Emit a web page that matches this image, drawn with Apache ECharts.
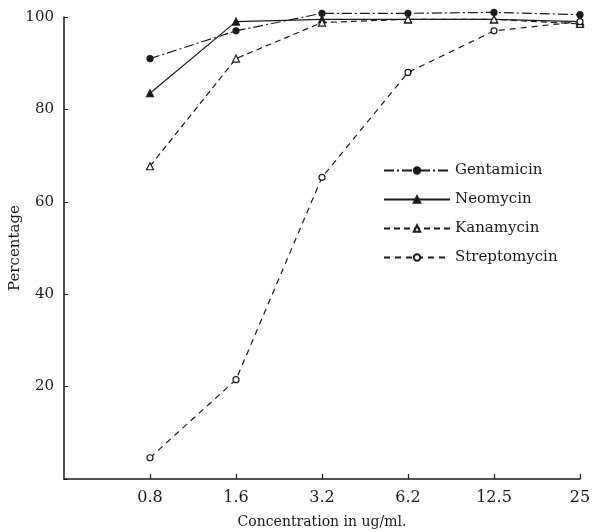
<!DOCTYPE html>
<html>
<head>
<meta charset="utf-8">
<script src="https://cdn.jsdelivr.net/npm/echarts@6/dist/echarts.min.js"></script>
<style>
  html, body { margin: 0; padding: 0; background: #fff; }
  #chart { width: 592px; height: 532px; }
</style>
</head>
<body>
<div id="chart"></div>
<script>
// concentrations (ug/ml), one category per dose
const concentrations = ["0.8", "1.6", "3.2", "6.2", "12.5", "25"];
const yTicks = [20, 40, 60, 80, 100];

const gentamicin = [91, 97, 100.8, 100.8, 101, 100.5];
const neomycin = [83.5, 99, 99.5, 99.5, 99.5, 99];
const kanamycin = [67.7, 91, 98.8, 99.5, 99.5, 98.5];
const streptomycin = [4.6, 21.5, 65.3, 88, 97, 99];

const ink = "#1a1a1a";
const serif = "'DejaVu Serif', 'Liberation Serif', serif";

// leading empty slot so 0.8 sits one step right of the y axis
const xData = [""].concat(concentrations);
function pad(arr) {
  return [null].concat(arr);
}

function makeSeries(name, values, symbol, filled, dash) {
  return {
    name: name,
    type: "line",
    data: pad(values),
    clip: false,
    symbol: symbol,
    symbolSize: symbol === "triangle" ? 7 : 6,
    itemStyle: {
      color: filled ? ink : "#fff",
      borderColor: ink,
      borderWidth: 1.2,
    },
    lineStyle: { color: ink, width: 1.2, type: dash },
    emphasis: { disabled: true },
  };
}

const chart = echarts.init(document.getElementById("chart"));
chart.setOption({
  animation: false,
  backgroundColor: "#fff",
  grid: { left: 64, right: 12, top: 17, bottom: 53, outerBoundsMode: "none", containLabel: false },
  legend: {
    orient: "vertical",
    left: 378,
    top: 158,
    itemWidth: 66,
    itemHeight: 8,
    itemGap: 14,
    textStyle: { fontFamily: serif, fontSize: 15, color: ink },
    data: ["Gentamicin", "Neomycin", "Kanamycin", "Streptomycin"],
  },
  xAxis: {
    type: "category",
    data: xData,
    boundaryGap: false,
    name: "Concentration in ug/ml.",
    nameLocation: "middle",
    nameMoveOverlap: false,
    nameGap: 36,
    nameTextStyle: { fontFamily: serif, fontSize: 14, color: ink },
    axisLine: { lineStyle: { color: ink, width: 1.5 } },
    axisTick: {
      inside: true,
      length: 5,
      interval: function (index) {
        return index > 0;
      },
      lineStyle: { color: ink, width: 1.2 },
    },
    axisLabel: {
      interval: 0,
      margin: 11,
      fontFamily: serif,
      fontSize: 16,
      color: ink,
    },
    splitLine: { show: false },
  },
  yAxis: {
    type: "value",
    min: 0,
    max: 100,
    interval: 20,
    name: "Percentage",
    nameLocation: "middle",
    nameMoveOverlap: false,
    nameGap: 41,
    nameTextStyle: { fontFamily: serif, fontSize: 15, color: ink },
    axisLine: { show: true, lineStyle: { color: ink, width: 1.5 } },
    axisTick: { show: true, inside: true, length: 4, lineStyle: { color: ink } },
    axisLabel: {
      margin: 10,
      fontFamily: serif,
      fontSize: 15,
      color: ink,
      formatter: function (v) {
        return yTicks.indexOf(v) >= 0 ? String(v) : "";
      },
    },
    splitLine: { show: false },
  },
  series: [
    makeSeries("Gentamicin", gentamicin, "circle", true, [10, 3, 2, 3]),
    makeSeries("Neomycin", neomycin, "triangle", true, "solid"),
    makeSeries("Kanamycin", kanamycin, "triangle", false, [6, 4]),
    makeSeries("Streptomycin", streptomycin, "circle", false, [6, 5]),
  ],
});
</script>
</body>
</html>
